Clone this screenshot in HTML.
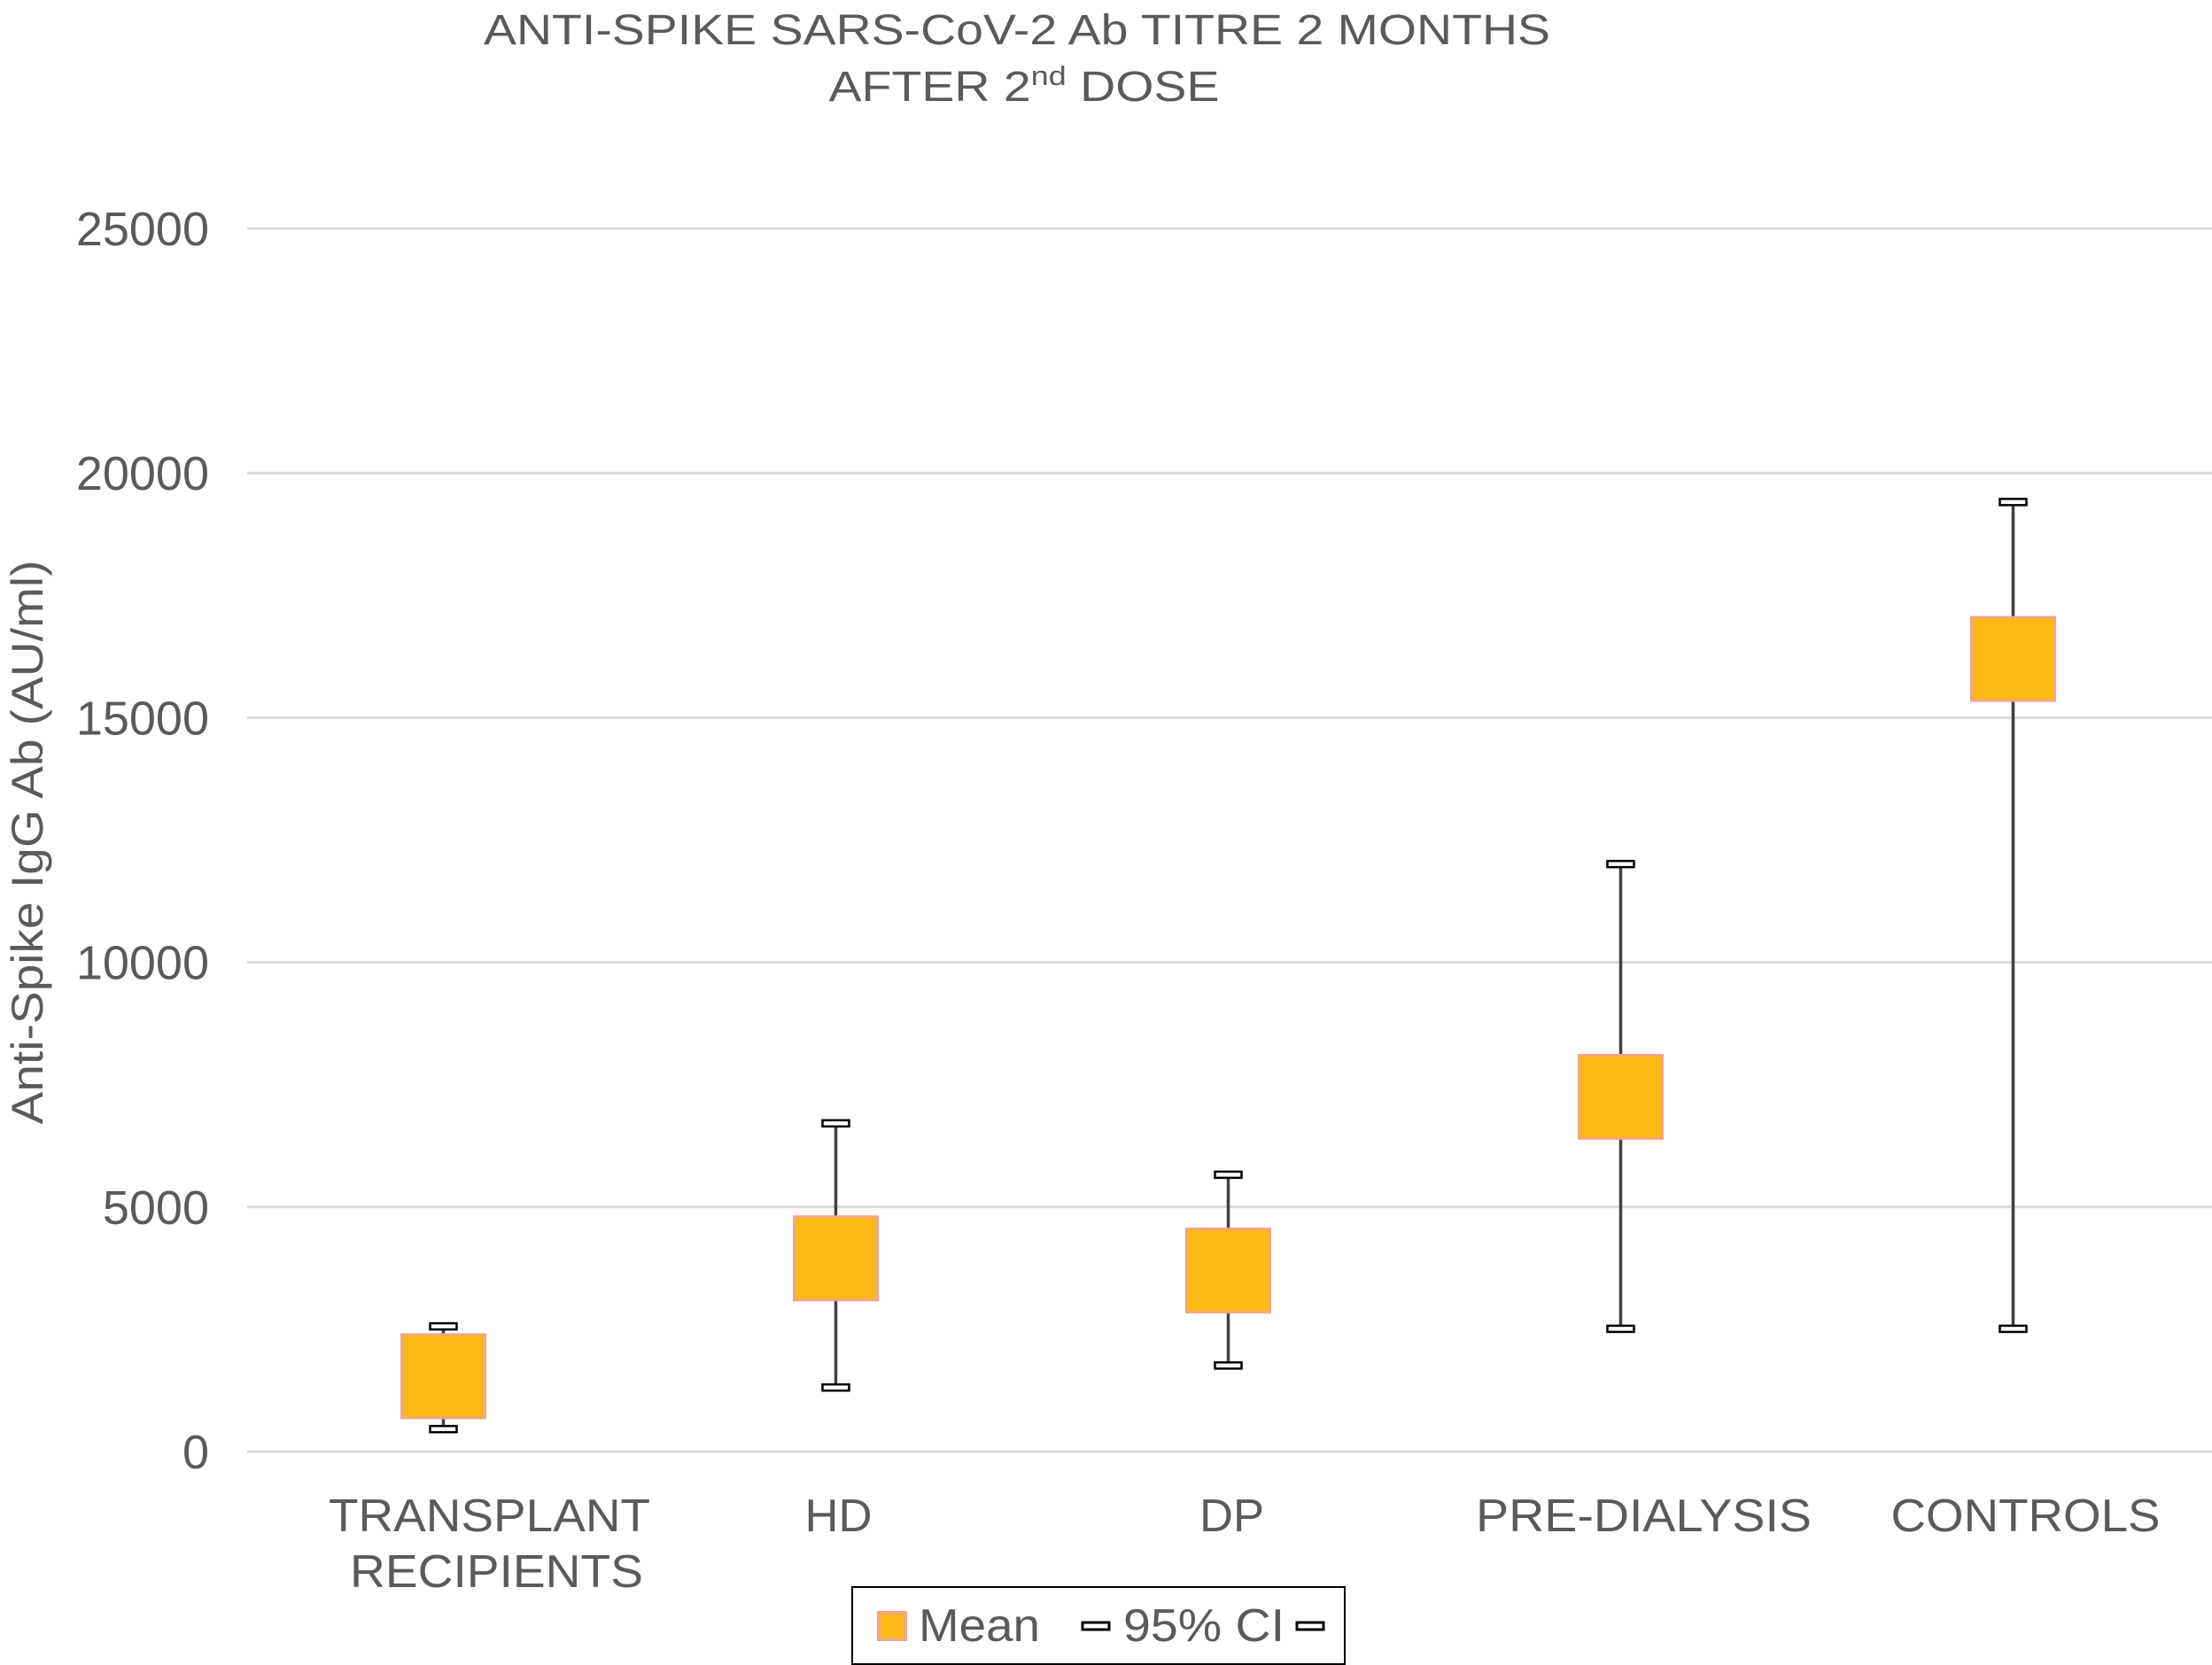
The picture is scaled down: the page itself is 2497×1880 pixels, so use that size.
<!DOCTYPE html>
<html><head><meta charset="utf-8"><style>
html,body{margin:0;padding:0;background:#fff}
svg{display:block;font-family:"Liberation Sans",Arial,sans-serif}
</style></head><body>
<svg id="chart" width="2497" height="1880" viewBox="0 0 2497 1880">
<text x="1148" y="50" text-anchor="middle" font-size="48" fill="#5a5a5a" textLength="1204" lengthAdjust="spacingAndGlyphs">ANTI-SPIKE SARS-CoV-2 Ab TITRE 2 MONTHS</text>
<text x="1156" y="114" text-anchor="middle" font-size="48" fill="#5a5a5a" textLength="441" lengthAdjust="spacingAndGlyphs">AFTER 2<tspan font-size="31" dy="-18">nd</tspan><tspan dy="18"> DOSE</tspan></text>
<text transform="translate(48,951) rotate(-90)" text-anchor="middle" font-size="50" fill="#5a5a5a" textLength="637" lengthAdjust="spacingAndGlyphs">Anti-Spike IgG Ab (AU/ml)</text>
<g id="grid"></g><g id="ylabels"></g><g id="xlabels"></g><g id="marks"></g>
<g>
<rect x="962" y="1792" width="556" height="87" fill="#fff" stroke="#000" stroke-width="2"/>
<rect x="992" y="1821" width="30" height="30" fill="#FDB913" stroke="#F4A582" stroke-width="4"/>
<text x="1037" y="1853" font-size="52" fill="#5a5a5a" textLength="137" lengthAdjust="spacingAndGlyphs">Mean</text>
<rect x="1222" y="1832" width="30" height="8" fill="#fff" stroke="#000" stroke-width="3"/>
<text x="1268" y="1853" font-size="52" fill="#5a5a5a" textLength="182" lengthAdjust="spacingAndGlyphs">95% CI</text>
<rect x="1464" y="1832" width="30" height="8" fill="#fff" stroke="#000" stroke-width="3"/>
</g>
</svg>
<script>
const categories=[["TRANSPLANT","RECIPIENTS"],["HD"],["DP"],["PRE-DIALYSIS"],["CONTROLS"]];
const means=[1540,3950,3700,7250,16200];
const ciLow=[450,1300,1750,2500,2500];
const ciHigh=[2550,6700,5650,12000,19400];
const yTicks=[0,5000,10000,15000,20000,25000];
const labelOffsets=[52,3,4,26,14];
const labelWidths=[[363,331],[76],[73],[379],[304]];
const NS="http://www.w3.org/2000/svg";
const plotL=279,plotR=2494,y0=1639,yTop=258,yMax=25000;
function y(v){return y0-(v/yMax)*(y0-yTop);}
const band=(plotR-plotL)/categories.length;
function x(i){return plotL+band*(i+0.5);}
function mk(tag,attrs,parent,text){const e=document.createElementNS(NS,tag);for(const k in attrs)e.setAttribute(k,attrs[k]);if(text!==undefined)e.textContent=text;parent.appendChild(e);return e;}
const grid=document.getElementById('grid'),yl=document.getElementById('ylabels'),xl=document.getElementById('xlabels'),marks=document.getElementById('marks');
yTicks.forEach(t=>{
 const l=mk('line',{x1:plotL,x2:2497,y1:y(t),y2:y(t),stroke:'#d9d9d9','stroke-width':3},grid);
 
 
 const tx=mk('text',{x:236,y:y(t)+19,'text-anchor':'end','font-size':54,fill:'#5a5a5a'},yl,String(t));
 
 
});
categories.forEach((c,i)=>{
 c.forEach((line,j)=>{
  const tx=mk('text',{x:x(i)+labelOffsets[i]+(j?8:0),y:1729+j*63,'text-anchor':'middle','font-size':52,fill:'#5a5a5a',textLength:labelWidths[i][j],lengthAdjust:'spacingAndGlyphs'},xl,line);
  
  
 });
 const cx=x(i);
 const ln=mk('line',{x1:cx,x2:cx,y1:y(ciHigh[i]),y2:y(ciLow[i]),stroke:'#404040','stroke-width':3.5},marks);
 
 
 [ciHigh[i],ciLow[i]].forEach((v,k)=>{
  const cap=mk('rect',{x:cx-15,y:y(v)-4,width:30,height:7,fill:'#fff',stroke:'#000','stroke-width':2.5},marks);
  
  
 });
 const s=94;
 const b=mk('rect',{x:cx-s/2,y:y(means[i])-s/2,width:s,height:s,fill:'#FDB913',stroke:'#F4A582','stroke-width':3},marks);
 
 
});
</script>
</body></html>
